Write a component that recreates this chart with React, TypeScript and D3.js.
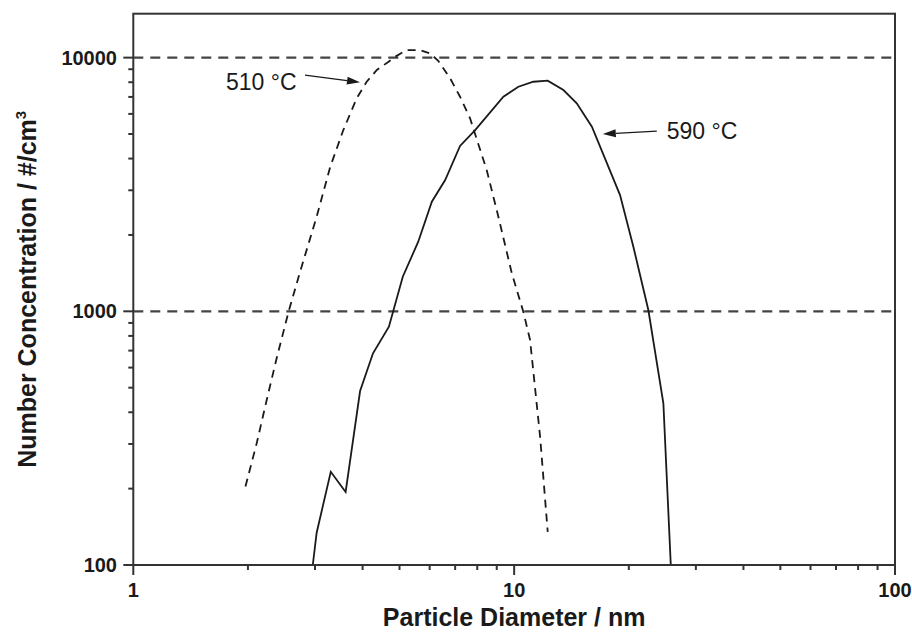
import React from "react";
import * as d3 from "d3";

// 590 °C series (solid)
const d590: [number, number][] = [
  [2.96, 100], [3.03, 134], [3.3, 233], [3.61, 194], [3.94, 485], [4.26, 683],
  [4.69, 870], [5.1, 1369], [5.6, 1881], [6.08, 2704], [6.59, 3292], [7.21, 4484],
  [7.9, 5183], [9.37, 7014], [10.26, 7680], [11.23, 8035], [12.25, 8110],
  [13.47, 7452], [14.6, 6604], [16.0, 5341], [18.97, 2873], [20.56, 1797],
  [22.51, 1012], [24.65, 434], [25.78, 100],
];

// 510 °C series (dashed)
const d510: [number, number][] = [
  [1.97, 204], [2.11, 303], [2.24, 447], [2.38, 655], [2.56, 1003], [2.74, 1429],
  [3.03, 2360], [3.29, 3715], [3.56, 5183], [3.86, 6912], [4.1, 8035], [4.36, 8937],
  [4.68, 9634], [4.87, 10080], [5.22, 10715], [5.66, 10715], [6.01, 10397],
  [6.32, 9722], [6.79, 8288], [7.21, 7014], [7.66, 5764], [8.47, 3606], [9.09, 2360],
  [9.86, 1412], [10.57, 996], [11.01, 771], [11.7, 320], [12.25, 135],
];

const xTickLabels = [1, 10, 100];
const yTickLabels = [100, 1000, 10000];
const gridValues = [1000, 10000];

// annotations: text position, arrow tail, arrow tip (data units)
const annotations = [
  { label: "510 °C", text: [1.751, 7452], tail: [2.824, 8540], tip: [3.938, 7991] },
  { label: "590 °C", text: [25.16, 4776], tail: [23.69, 5136], tip: [17.09, 5000] },
];

const W = 912, H = 633;
const L = 133.3, R = 895, T = 13.7, B = 565;

export default function App() {
  const x = d3.scaleLog().domain([1, 100]).range([L, R]);
  const y = d3.scaleLog().domain([100, 14900]).range([B, T]);
  const line = d3.line<[number, number]>().x(d => x(d[0])).y(d => y(d[1]));

  const xMinor: number[] = [];
  const yMinor: number[] = [];
  for (const dec of [1, 10]) for (let k = 2; k <= 9; k++) xMinor.push(dec * k);
  for (const dec of [100, 1000]) for (let k = 2; k <= 9; k++) yMinor.push(dec * k);

  const axisColor = "#333";
  const font = "Liberation Sans, Arial, sans-serif";

  return (
    <div style={{ position: "absolute", left: 0, top: 0 }}>
      <svg width={W} height={H} style={{ display: "block", background: "#fff" }} fontFamily={font}>
        <rect x={0} y={0} width={W} height={H} fill="#fff" />
        {/* grid lines */}
        {gridValues.map(v => (
          <line key={v} x1={L} x2={R} y1={y(v)} y2={y(v)} stroke="#444" strokeWidth={2.2} strokeDasharray="10,7" />
        ))}
        {/* curves */}
        <path d={line(d510) || ""} fill="none" stroke="#1a1a1a" strokeWidth={1.8} strokeDasharray="8,6" />
        <path d={line(d590) || ""} fill="none" stroke="#1a1a1a" strokeWidth={1.8} />
        {/* frame */}
        <rect x={L} y={T} width={R - L} height={B - T} fill="none" stroke={axisColor} strokeWidth={2} />
        {/* x ticks */}
        {xTickLabels.map(v => (
          <g key={"xt" + v}>
            <line x1={x(v)} x2={x(v)} y1={B} y2={B + 10} stroke={axisColor} strokeWidth={2} />
            <text x={x(v)} y={597} textAnchor="middle" fontSize={20} fontWeight="bold" fill="#1a1a1a">{v}</text>
          </g>
        ))}
        {xMinor.map(v => (
          <line key={"xm" + v} x1={x(v)} x2={x(v)} y1={B} y2={B + 5} stroke={axisColor} strokeWidth={2} />
        ))}
        {/* y ticks */}
        {yTickLabels.map(v => (
          <g key={"yt" + v}>
            <line x1={L - 10} x2={L} y1={y(v)} y2={y(v)} stroke={axisColor} strokeWidth={2} />
            <text x={117} y={y(v) + 7} textAnchor="end" fontSize={20} fontWeight="bold" fill="#1a1a1a">{v}</text>
          </g>
        ))}
        {yMinor.map(v => (
          <line key={"ym" + v} x1={L - 5} x2={L} y1={y(v)} y2={y(v)} stroke={axisColor} strokeWidth={2} />
        ))}
        {/* axis titles */}
        <text x={(L + R) / 2} y={626} textAnchor="middle" fontSize={25} fontWeight="bold" fill="#1a1a1a">
          Particle Diameter / nm
        </text>
        <text transform={`translate(36, ${(T + B) / 2}) rotate(-90)`} textAnchor="middle" fontSize={25} fontWeight="bold" fill="#1a1a1a">
          Number Concentration / #/cm<tspan dy={-10} fontSize={15}>3</tspan>
        </text>
        {/* annotations */}
        {annotations.map(a => {
          const x1 = x(a.tail[0]), y1 = y(a.tail[1]);
          const x2 = x(a.tip[0]), y2 = y(a.tip[1]);
          const ang = Math.atan2(y2 - y1, x2 - x1);
          const hl = 13, hw = 4;
          const bx = x2 - hl * Math.cos(ang), by = y2 - hl * Math.sin(ang);
          const px = -Math.sin(ang) * hw, py = Math.cos(ang) * hw;
          return (
            <g key={a.label}>
              <line x1={x1} y1={y1} x2={bx} y2={by} stroke="#1a1a1a" strokeWidth={1.3} />
              <polygon points={`${x2},${y2} ${bx + px},${by + py} ${bx - px},${by - py}`} fill="#1a1a1a" />
              <text x={x(a.text[0])} y={y(a.text[1])} fontSize={23} fill="#1a1a1a">{a.label}</text>
            </g>
          );
        })}
      </svg>
    </div>
  );
}
